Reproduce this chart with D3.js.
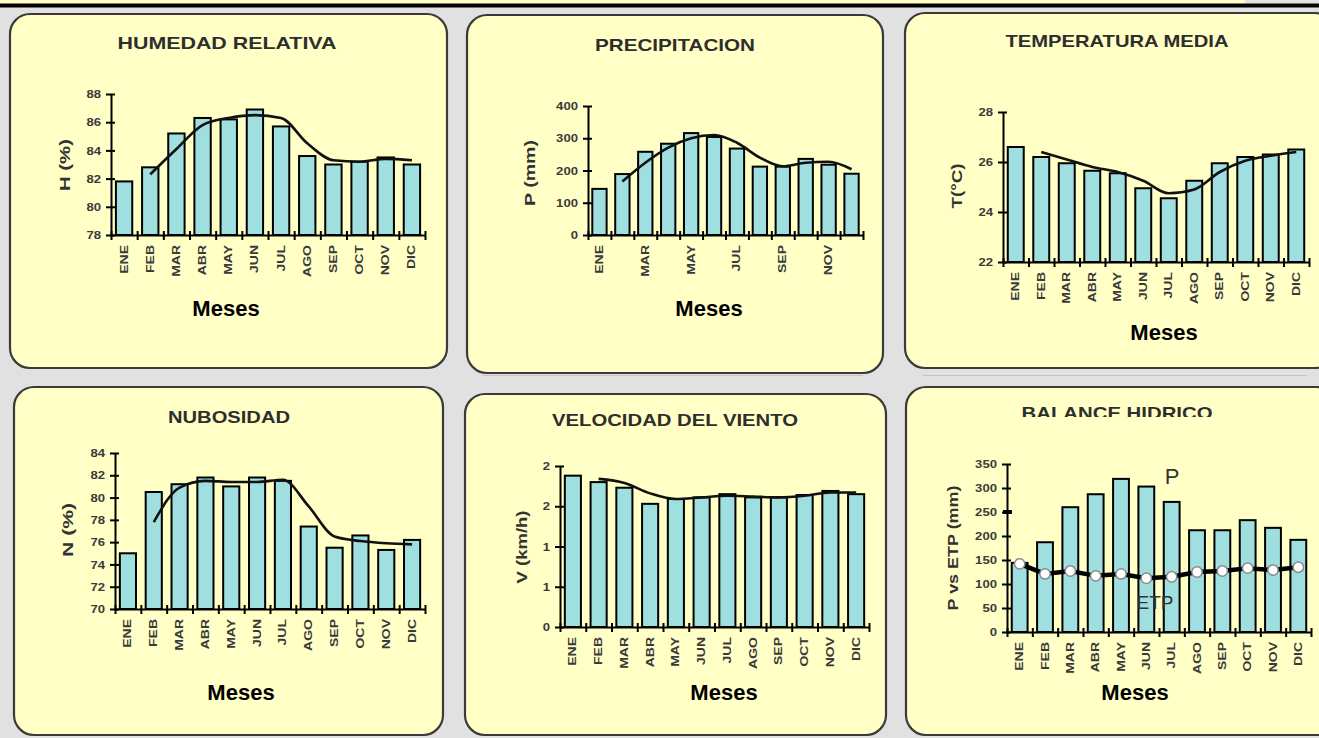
<!DOCTYPE html>
<html>
<head>
<meta charset="utf-8">
<script src="https://cdn.jsdelivr.net/npm/d3@7"></script>
<style>
  html, body { margin: 0; padding: 0; background: #e1e1e1; }
  svg { display: block; }
  text { font-family: "Liberation Sans", Arial, Helvetica, sans-serif; }
</style>
</head>
<body>
<svg id="chart" width="1319" height="738"></svg>
<script>
// ---------------- DATA ----------------
const months = ["ENE","FEB","MAR","ABR","MAY","JUN","JUL","AGO","SEP","OCT","NOV","DIC"];

const humedad = [81.8, 82.8, 85.2, 86.3, 86.2, 86.9, 85.7, 83.6, 83.0, 83.2, 83.5, 83.0];
const humedadTendencia = [null, 82.3, 84.1, 85.8, 86.3, 86.5, 86.3, 84.5, 83.3, 83.2, 83.4, 83.3];
const humedadTicks = [78, 80, 82, 84, 86, 88];

const precipitacion = [143, 189, 258, 283, 316, 304, 268, 212, 212, 236, 218, 190];
const precipitacionTendencia = [null, 166, 224, 271, 300, 310, 286, 240, 213, 224, 227, 204];
const precipitacionTicks = [0, 100, 200, 300, 400];
const precipitacionMeses = ["ENE","","MAR","","MAY","","JUL","","SEP","","NOV",""];

const temperatura = [26.6, 26.2, 25.95, 25.65, 25.55, 24.95, 24.55, 25.25, 25.95, 26.2, 26.3, 26.5];
const temperaturaTendencia = [null, 26.4, 26.1, 25.8, 25.6, 25.25, 24.75, 24.9, 25.6, 26.05, 26.25, 26.4];
const temperaturaTicks = [22, 24, 26, 28];

const nubosidad = [75.0, 80.5, 81.2, 81.8, 81.0, 81.8, 81.5, 77.4, 75.5, 76.6, 75.3, 76.2];
const nubosidadTendencia = [null, 77.8, 80.9, 81.5, 81.4, 81.4, 81.6, 79.2, 76.5, 76.1, 75.9, 75.8];
const nubosidadTicks = [70, 72, 74, 76, 78, 80, 82, 84];

const viento = [1.88, 1.80, 1.73, 1.53, 1.59, 1.61, 1.65, 1.61, 1.61, 1.64, 1.69, 1.65];
const vientoTendencia = [null, 1.84, 1.79, 1.66, 1.59, 1.61, 1.63, 1.62, 1.61, 1.63, 1.67, 1.67];
const vientoTicks = [0, 0.5, 1, 1.5, 2];
const vientoTickLabels = ["0", "1", "1", "2", "2"];

const balanceP = [144, 187, 260, 287, 319, 303, 271, 212, 212, 233, 217, 192];
const balanceETP = [142, 121, 127, 117, 121, 112, 115, 125, 127, 133, 129, 135];
const balanceTicks = [0, 50, 100, 150, 200, 250, 300, 350];

// ---------------- DRAWING ----------------
const svg = d3.select("#chart");
const BAR = "#9fdfdf";
const PANEL = "#ffffc6";

// top strip
svg.append("rect").attr("x", 0).attr("y", 0).attr("width", 1245).attr("height", 4).attr("fill", PANEL);
svg.append("rect").attr("x", 0).attr("y", 3.5).attr("width", 1319).attr("height", 4).attr("fill", "#000");
svg.append("line").attr("x1", 483).attr("x2", 863).attr("y1", 375.5).attr("y2", 375.5).attr("stroke", "#c4c4c4");
svg.append("line").attr("x1", 923).attr("x2", 1307).attr("y1", 375.5).attr("y2", 375.5).attr("stroke", "#c4c4c4");

// panel backgrounds
const panels = [
  {x: 10, y: 14, w: 437, h: 354},
  {x: 467, y: 15, w: 416, h: 358},
  {x: 905, y: 13, w: 430, h: 355},
  {x: 14, y: 387, w: 429, h: 348},
  {x: 465, y: 394, w: 421, h: 341},
  {x: 906, y: 387, w: 430, h: 348}
];
panels.forEach(p => {
  svg.append("rect").attr("x", p.x).attr("y", p.y).attr("width", p.w).attr("height", p.h)
    .attr("rx", 20).attr("ry", 20).attr("fill", PANEL)
    .attr("stroke", "#3a3a3a").attr("stroke-width", 2.2);
});

function drawPanel(c) {
  const g = svg.append("g");
  const x = d3.scaleBand().domain(months).range([c.x0, c.x1])
    .paddingInner(0.375).paddingOuter(0.1875);
  const y = d3.scaleLinear().domain(c.domain).range([c.yBot, c.yTop]);
  const bx = d3.scaleLinear().domain([0, 12]).range([c.x0, c.x1]);

  // title
  const tg = g.append("g");
  if (c.clipTitle) {
    const id = "clip" + Math.round(c.x0);
    svg.append("clipPath").attr("id", id).append("rect")
      .attr("x", c.title[0] - 200).attr("y", c.title[1] - 30).attr("width", 400).attr("height", c.clipTitle - (c.title[1] - 30));
    tg.attr("clip-path", `url(#${id})`);
  }
  tg.append("text").attr("x", c.title[0]).attr("y", c.title[1])
    .attr("text-anchor", "middle").attr("font-size", 17).attr("font-weight", "bold")
    .attr("fill", "#2e2e2e").attr("textLength", c.titleLen).attr("lengthAdjust", "spacingAndGlyphs")
    .text(c.titleText);

  // y label
  g.append("text").attr("transform", `translate(${c.yLab[0]},${c.yLab[1]}) rotate(-90)`)
    .attr("text-anchor", "middle").attr("dy", "0.35em")
    .attr("font-size", 14).attr("font-weight", "bold").attr("fill", "#333")
    .attr("textLength", c.yLabLen).attr("lengthAdjust", "spacingAndGlyphs")
    .text(c.yLabText);

  // bars
  g.append("g").selectAll("rect").data(c.values).join("rect")
    .attr("x", (d, i) => x(months[i]))
    .attr("y", d => y(d))
    .attr("width", x.bandwidth())
    .attr("height", d => y(c.domain[0]) - y(d))
    .attr("fill", BAR).attr("stroke", "#000").attr("stroke-width", 2);

  // y axis
  const ya = g.append("g").attr("transform", `translate(${c.x0},0)`)
    .call(d3.axisLeft(y).tickValues(c.ticks).tickSizeOuter(0).tickSizeInner(5)
      .tickFormat((d, i) => c.tickLabels ? c.tickLabels[i] : d3.format("d")(d)));
  ya.select(".domain").attr("stroke", "#000").attr("stroke-width", 2);
  ya.selectAll(".tick line").attr("x1", 4).attr("stroke", "#000").attr("stroke-width", 2);
  ya.selectAll(".tick text").attr("x", 0).attr("dy", "0.35em")
    .attr("transform", "translate(-10,0) scale(1.25,1)")
    .attr("font-size", 10.5).attr("font-weight", "bold").attr("fill", "#3a3a3a")
    .attr("font-family", "Liberation Sans, Arial, sans-serif");

  // x axis
  const xa = g.append("g").attr("transform", `translate(0,${c.yBot})`)
    .call(d3.axisBottom(bx).ticks(12).tickSizeOuter(0).tickSizeInner(5).tickFormat(""));
  xa.select(".domain").attr("stroke", "#000").attr("stroke-width", 2);
  xa.selectAll(".tick line").attr("y1", -4).attr("stroke", "#000").attr("stroke-width", 2);

  // month labels
  const labs = c.monthLabels || months;
  g.append("g").selectAll("text").data(labs).join("text")
    .attr("transform", (d, i) => `translate(${x(months[i]) + x.bandwidth() / 2},${c.yBot + 10}) rotate(-90) scale(1.4,1)`)
    .attr("text-anchor", "end").attr("dy", "0.35em")
    .attr("font-size", 10).attr("font-weight", "bold").attr("fill", "#3a3a3a")
    .text(d => d);

  // trend line
  if (c.trend) {
    const line = d3.line()
      .defined(d => d != null)
      .x((d, i) => x(months[i]) + x.bandwidth() / 2)
      .y(d => y(d))
      .curve(d3.curveMonotoneX);
    g.append("path").datum(c.trend).attr("d", line)
      .attr("fill", "none").attr("stroke", "#111").attr("stroke-width", 2.6);
  }

  // Meses
  g.append("text").attr("x", c.meses[0]).attr("y", c.meses[1]).attr("dy", "0.35em")
    .attr("text-anchor", "middle").attr("font-size", 22).attr("font-weight", "bold").attr("fill", "#000")
    .text("Meses");

  return {g, x, y};
}

drawPanel({
  titleText: "HUMEDAD RELATIVA", title: [227, 49], titleLen: 219,
  yLabText: "H (%)", yLab: [65, 165], yLabLen: 52,
  x0: 111, x1: 425, yTop: 94, yBot: 235, domain: [78, 88],
  values: humedad, trend: humedadTendencia, ticks: humedadTicks,
  meses: [226, 308]
});

drawPanel({
  titleText: "PRECIPITACION", title: [675, 51], titleLen: 160,
  yLabText: "P (mm)", yLab: [530, 173], yLabLen: 66,
  x0: 588, x1: 863, yTop: 106, yBot: 235, domain: [0, 400],
  values: precipitacion, trend: precipitacionTendencia, ticks: precipitacionTicks,
  monthLabels: precipitacionMeses,
  meses: [709, 308]
});

drawPanel({
  titleText: "TEMPERATURA MEDIA", title: [1117, 47], titleLen: 223,
  yLabText: "T(°C)", yLab: [957, 186], yLabLen: 45,
  x0: 1003, x1: 1309, yTop: 112, yBot: 262, domain: [22, 28],
  values: temperatura, trend: temperaturaTendencia, ticks: temperaturaTicks,
  meses: [1164, 332]
});

drawPanel({
  titleText: "NUBOSIDAD", title: [229, 423], titleLen: 122,
  yLabText: "N (%)", yLab: [68, 530], yLabLen: 54,
  x0: 115, x1: 425, yTop: 453, yBot: 609, domain: [70, 84],
  values: nubosidad, trend: nubosidadTendencia, ticks: nubosidadTicks,
  meses: [241, 692]
});

drawPanel({
  titleText: "VELOCIDAD DEL VIENTO", title: [675, 426], titleLen: 246,
  yLabText: "V (km/h)", yLab: [522, 547], yLabLen: 73,
  x0: 560, x1: 869, yTop: 466, yBot: 627, domain: [0, 2],
  values: viento, trend: vientoTendencia, ticks: vientoTicks, tickLabels: vientoTickLabels,
  meses: [724, 692]
});

const bal = drawPanel({
  titleText: "BALANCE HIDRICO", title: [1117, 419], titleLen: 191, clipTitle: 417,
  yLabText: "P vs ETP (mm)", yLab: [953, 548], yLabLen: 125,
  x0: 1007, x1: 1311, yTop: 464, yBot: 632, domain: [0, 350],
  values: balanceP, ticks: balanceTicks,
  meses: [1135, 692]
});

// ETP line with markers
{
  const {g, x, y} = bal;
  const cx = (d, i) => x(months[i]) + x.bandwidth() / 2;
  g.append("path").datum(balanceETP)
    .attr("d", d3.line().x(cx).y(d => y(d)))
    .attr("fill", "none").attr("stroke", "#000").attr("stroke-width", 4.5);
  g.append("g").selectAll("circle").data(balanceETP).join("circle")
    .attr("cx", cx).attr("cy", d => y(d)).attr("r", 5.2)
    .attr("fill", "#fff").attr("stroke", "#8a8a8a").attr("stroke-width", 1.5);
  // thick mark on axis at 250
  g.append("line").attr("x1", 1003).attr("x2", 1012).attr("y1", y(250)).attr("y2", y(250))
    .attr("stroke", "#000").attr("stroke-width", 4);
  g.append("text").attr("x", 1172).attr("y", 476).attr("dy", "0.35em").attr("text-anchor", "middle")
    .attr("font-size", 22).attr("fill", "#333").text("P");
  g.append("text").attr("x", 1155).attr("y", 602).attr("dy", "0.35em").attr("text-anchor", "middle")
    .attr("font-size", 19).attr("fill", "#333").text("ETP");
}
</script>
</body>
</html>
